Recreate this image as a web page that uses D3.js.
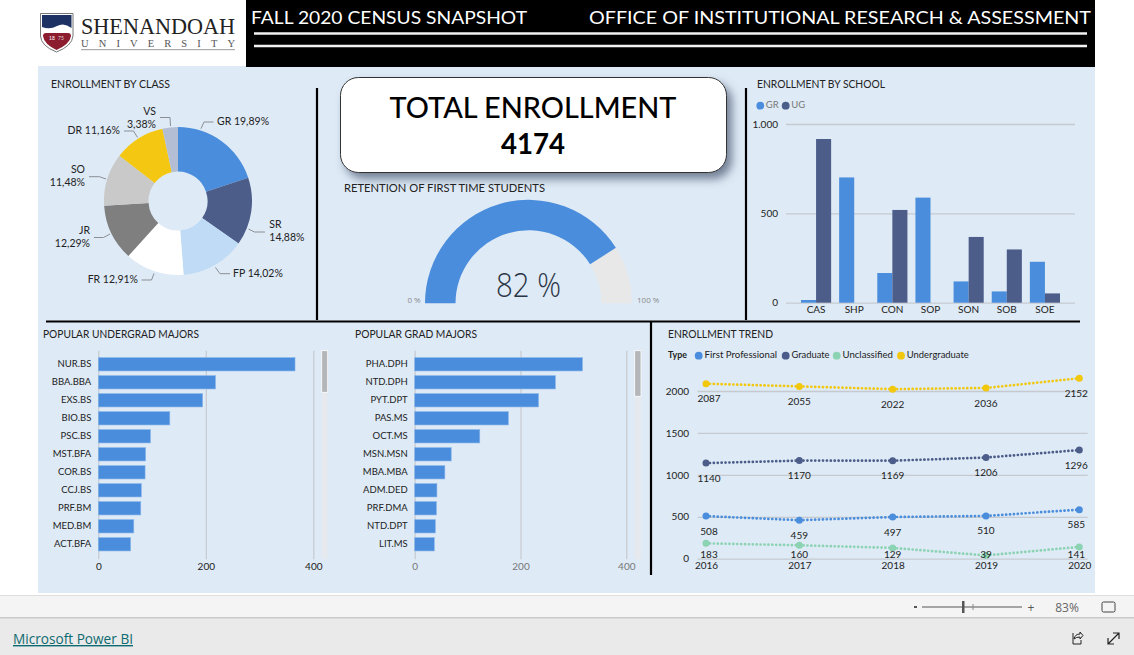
<!DOCTYPE html>
<html><head><meta charset="utf-8">
<script src="https://cdn.jsdelivr.net/npm/d3@7"></script>
<style>
html,body{margin:0;padding:0;background:#fff;overflow:hidden}
svg{display:block}
text{font-family:"Comic Sans MS","Lato",sans-serif;fill:#222}
.axis path.domain{display:none}
</style></head><body>
<div id="chart"></div>
<script>
// ---------- data ----------
const classNames = ["GR","SR","FP","FR","JR","SO","DR","VS"];
const classShares = [19.89,14.88,14.02,12.91,12.29,11.48,11.16,3.38];
const classColors = ["#4a8ddc","#4c5d8a","#bfdbf5","#ffffff","#7f7f7f","#c9c9c9","#f4c812","#b3bdd3"];

const totalEnrollment = 4174;
const retentionPct = 82;

const schools = ["CAS","SHP","CON","SOP","SON","SOB","SOE"];
const schoolGR = [15,701,166,588,119,63,229];
const schoolUG = [916,0,519,0,368,298,52];

const ugMajors = ["NUR.BS","BBA.BBA","EXS.BS","BIO.BS","PSC.BS","MST.BFA","COR.BS","CCJ.BS","PRF.BM","MED.BM","ACT.BFA"];
const ugCounts = [366,218,194,133,97,88,87,80,79,66,60];
const gradMajors = ["PHA.DPH","NTD.DPH","PYT.DPT","PAS.MS","OCT.MS","MSN.MSN","MBA.MBA","ADM.DED","PRF.DMA","NTD.DPT","LIT.MS"];
const gradCounts = [317,266,234,177,123,69,57,42,41,39,37];

const years = [2016,2017,2018,2019,2020];
const firstProfessional = [508,459,497,510,585];
const graduate = [1140,1170,1169,1206,1296];
const unclassified = [183,160,129,39,141];
const undergraduate = [2087,2055,2022,2036,2152];
const trendNames = ["First Professional","Graduate","Unclassified","Undergraduate"];

// ---------- style + layout ----------
const BLUE="#4a8ddc",NAVY="#4c5d8a",GREEN="#8cd3b3",YELLOW="#f2c80f",PANEL="#deeaf6",GRID="#c6cacf";
const trendColors=[BLUE,NAVY,GREEN,YELLOW];

const svg=d3.select("#chart").append("svg").attr("width",1134).attr("height",655).attr("viewBox","0 0 1134 655");
const defs=svg.append("defs");
const f=defs.append("filter").attr("id","shadow").attr("x","-10%").attr("y","-20%").attr("width","125%").attr("height","150%");
f.append("feDropShadow").attr("dx",5).attr("dy",6).attr("stdDeviation",5).attr("flood-color","#56657c").attr("flood-opacity",.8);

function txt(g,x,y,s,size,opt={}){
  const t=g.append("text").attr("x",x).attr("y",y).attr("font-size",size).text(s)
    .attr("text-anchor",opt.anchor||"start").attr("dominant-baseline",opt.base||"auto");
  if(opt.fill)t.style("fill",opt.fill);
  if(opt.weight)t.attr("font-weight",opt.weight);
  if(opt.family)t.style("font-family",opt.family);
  if(opt.width)t.attr("textLength",opt.width).attr("lengthAdjust","spacingAndGlyphs");
  return t;
}
function rect(g,x,y,w,h,fill){return g.append("rect").attr("x",x).attr("y",y).attr("width",w).attr("height",h).attr("fill",fill);}
function styleAxis(g,size,color){
  g.attr("class","axis");
  g.selectAll("text").attr("font-size",size).style("fill",color||"#222");
}

// ---------- page chrome ----------
rect(svg,38,66,1057,527,PANEL);
rect(svg,246,0,849,67,"#000");
txt(svg,251,24,"FALL 2020 CENSUS SNAPSHOT",18,{fill:"#fff",width:276});
txt(svg,589,24,"OFFICE OF INSTITUTIONAL RESEARCH & ASSESSMENT",18,{fill:"#fff",width:502});
[33.5,46].forEach(y=>svg.append("line").attr("x1",254).attr("x2",1087).attr("y1",y).attr("y2",y).attr("stroke","#f2f2f2").attr("stroke-width",2.5));

// logo
const logo=svg.append("g");
logo.append("path").attr("d","M40.5 13.5H73V36Q72 46 56.5 52Q41 46 40.5 36Z").attr("fill","#fff").attr("stroke","#777").attr("stroke-width",1);
logo.append("path").attr("d","M42 15H71.5V28Q64 22 57 26T42 27Z").attr("fill","#1d3263");
logo.append("path").attr("d","M46 33H68Q71 33 71 36Q70 44 56.5 50Q44 44 43 36Q43 33 46 33Z").attr("fill","#8c1d2f");
txt(logo,52,39.5,"18",5,{fill:"#fff",anchor:"middle"});
txt(logo,61,39.5,"75",5,{fill:"#ddd",anchor:"middle"});
txt(logo,81,33.5,"SHENANDOAH",24,{family:"'Liberation Serif',serif",fill:"#222",width:154});
txt(logo,81,46.5,"UNIVERSITY",10.5,{family:"'Liberation Serif',serif",fill:"#555",width:154}).attr("lengthAdjust","spacing");
logo.append("line").attr("x1",81).attr("x2",235).attr("y1",49.7).attr("y2",49.7).attr("stroke","#999");

// separators
[[317,88,317,320],[746,88,746,320],[46,321.5,1080,321.5],[651,321,651,575]].forEach(d=>
  svg.append("line").attr("x1",d[0]).attr("y1",d[1]).attr("x2",d[2]).attr("y2",d[3]).attr("stroke","#000").attr("stroke-width",2.2));

// bottom bars
rect(svg,0,595,1134,23,"#f4f4f4");
rect(svg,0,595,1134,1,"#dedede");
rect(svg,0,618,1134,37,"#eaeaea");
rect(svg,0,617,1134,1.5,"#c9c9c9");
const bb=svg.append("g");
rect(bb,914,606,3,2,"#555");
bb.append("line").attr("x1",922).attr("x2",1022).attr("y1",607).attr("y2",607).attr("stroke","#555");
rect(bb,962,601,2.5,12,"#555");
bb.append("line").attr("x1",973).attr("x2",973).attr("y1",604).attr("y2",610).attr("stroke","#888");
txt(bb,1031,611.5,"+",12,{anchor:"middle",fill:"#555",family:"'Open Sans',sans-serif"});
txt(bb,1067,611.5,"83%",12,{anchor:"middle",fill:"#666",family:"'Open Sans',sans-serif"});
bb.append("rect").attr("x",1102).attr("y",602).attr("width",13).attr("height",10).attr("rx",1.5).attr("fill","none").attr("stroke","#444");
txt(bb,13,644,"Microsoft Power BI",14,{fill:"#0d6a70",family:"'Open Sans',sans-serif",width:120}).attr("text-decoration","underline");
bb.append("path").attr("d","M1073 633V644H1081V640M1074 639Q1075 634 1080 634V632L1083 635.5L1080 639V637Q1076 637 1074 639Z").attr("fill","none").attr("stroke","#222");
bb.append("path").attr("d","M1108 644L1119 633M1113 633H1119V639M1108 638V644H1114").attr("fill","none").attr("stroke","#222").attr("stroke-width",1.2);

// ---------- enrollment by class ----------
txt(svg,51,88,"ENROLLMENT BY CLASS",10.5,{width:119});
const pieX=178,pieY=201,pieR=74,pieInner=29.5;
const pieG=svg.append("g").attr("transform",`translate(${pieX},${pieY})`);
const arcs=d3.pie().sort(null).value(d=>d)(classShares);
pieG.selectAll("path").data(arcs).join("path")
  .attr("d",d3.arc().innerRadius(pieInner).outerRadius(pieR))
  .attr("fill",(d,i)=>classColors[i]);
// label placement, relative to page
const pieLabels=[
 {lines:["GR 19,89%"],x:217,y:122,a:"start",lead:[[201,128.7],[204,122],[213.5,122]]},
 {lines:["SR","14,88%"],x:269.3,y:225,a:"start",lead:[[248.5,229],[254.5,232],[265,232]]},
 {lines:["FP 14,02%"],x:233,y:274,a:"start",lead:[[215.5,267.5],[220,273.7],[230,273.7]]},
 {lines:["FR 12,91%"],x:138,y:280,a:"end",lead:[[154,273.5],[151.5,280],[141.5,280]]},
 {lines:["JR","12,29%"],x:90,y:231,a:"end",lead:[[110,234],[103.5,237.5],[94,237.5]]},
 {lines:["SO","11,48%"],x:85,y:170,a:"end",lead:[[106,179],[99.5,176.7],[89,176.7]]},
 {lines:["DR 11,16%"],x:120,y:131,a:"end",lead:[[137.5,137.5],[133.5,131],[124,131]]},
 {lines:["VS","3,38%"],x:156,y:112,a:"end",lead:[[170.5,126],[170,117.5],[160,117.5]]}
];
pieLabels.forEach(l=>{
  svg.append("path").attr("d",d3.line()(l.lead)).attr("fill","none").attr("stroke","#8a8f96");
  l.lines.forEach((s,i)=>txt(svg,l.x,l.y+i*13.5,s,10.5,{anchor:l.a,base:"middle"}));
});

// ---------- total card ----------
svg.append("rect").attr("x",340.5).attr("y",77.5).attr("width",386).attr("height",95).attr("rx",18)
  .attr("fill","#fff").attr("stroke","#333").attr("filter","url(#shadow)");
txt(svg,533,118,"TOTAL ENROLLMENT",29,{anchor:"middle",fill:"#000",weight:500,width:287});
txt(svg,533,154,String(totalEnrollment),29,{anchor:"middle",fill:"#000",weight:700,width:64});

// ---------- gauge ----------
txt(svg,344,192,"RETENTION OF FIRST TIME STUDENTS",10.5,{width:201});
const gx=528.5,gy=303.3;
const gaugeG=svg.append("g").attr("transform",`translate(${gx},${gy})`);
const gaugeAngle=d3.scaleLinear().domain([0,100]).range([-Math.PI/2,Math.PI/2]);
const gaugeArc=d3.arc().innerRadius(73).outerRadius(103.5);
gaugeG.append("path").attr("d",gaugeArc({startAngle:gaugeAngle(retentionPct),endAngle:gaugeAngle(100)})).attr("fill","#e8e8e8");
gaugeG.append("path").attr("d",gaugeArc({startAngle:gaugeAngle(0),endAngle:gaugeAngle(retentionPct)})).attr("fill",BLUE);
txt(svg,528.5,297,retentionPct+" %",33,{anchor:"middle",family:"'Open Sans',sans-serif",fill:"#2b3445",width:65}).attr("font-weight",300);
txt(svg,420.7,303,"0 %",8,{anchor:"end",fill:"#8b8b8b",family:"'Open Sans',sans-serif"});
txt(svg,637,303,"100 %",8,{fill:"#8b8b8b",family:"'Open Sans',sans-serif"});

// ---------- enrollment by school ----------
txt(svg,757,88,"ENROLLMENT BY SCHOOL",10.5,{width:128});
[["GR",BLUE,760.3],["UG",NAVY,785.7]].forEach(d=>{
  svg.append("circle").attr("cx",d[2]).attr("cy",105.7).attr("r",3.9).attr("fill",d[1]);
  txt(svg,d[2]+5.5,105.7,d[0],9.5,{base:"middle",fill:"#777"});
});
const sy=d3.scaleLinear().domain([0,1000]).range([302.7,124]);
const sx=d3.scaleBand().domain(schools).range([797,1064]).paddingInner(.21).paddingOuter(.105);
const sx2=d3.scaleBand().domain(["GR","UG"]).range([0,sx.bandwidth()]);
const nl=d3.formatLocale({decimal:",",thousands:".",grouping:[3],currency:["",""]});
const sYAxis=svg.append("g").attr("transform","translate(786,0)")
  .call(d3.axisLeft(sy).tickValues([0,500,1000]).tickSize(-289).tickPadding(8).tickFormat(nl.format(",")));
styleAxis(sYAxis,10);
sYAxis.selectAll("line").attr("stroke",GRID).attr("stroke-width",1.3);
const sXAxis=svg.append("g").attr("transform","translate(0,302.7)")
  .call(d3.axisBottom(sx).tickSize(0).tickPadding(3.5));
styleAxis(sXAxis,10);
[["GR",schoolGR,BLUE],["UG",schoolUG,NAVY]].forEach(([k,vals,c])=>{
  svg.append("g").selectAll("rect").data(vals).join("rect")
    .attr("x",(d,i)=>sx(schools[i])+sx2(k))
    .attr("y",d=>sy(d))
    .attr("width",sx2.bandwidth())
    .attr("height",d=>sy(0)-sy(d))
    .attr("fill",c);
});

// ---------- horizontal bar charts ----------
function hbar(title,titleX,titleW,names,vals,x0,x400,labelColor,sbX,sbW,thumbEnd){
  txt(svg,titleX,338,title,10.5,{width:titleW});
  const x=d3.scaleLinear().domain([0,400]).range([x0,x400]);
  const y=d3.scaleBand().domain(names).range([355.3,553.3]).paddingInner(.26).paddingOuter(.13);
  const xa=svg.append("g").attr("transform","translate(0,559.3)")
    .call(d3.axisBottom(x).tickValues([0,200,400]).tickSize(-208.6).tickPadding(3.5));
  styleAxis(xa,10,labelColor);
  xa.selectAll("line").attr("stroke",GRID).attr("stroke-width",1.2);
  const ya=svg.append("g").attr("transform",`translate(${x0},0)`)
    .call(d3.axisLeft(y).tickSize(0).tickPadding(7));
  styleAxis(ya,9.5);
  svg.append("g").selectAll("rect").data(vals).join("rect")
    .attr("x",x(0)).attr("y",(d,i)=>y(names[i]))
    .attr("width",d=>x(d)-x(0)).attr("height",y.bandwidth()).attr("fill",BLUE)
    .attr("stroke","#86b4ea").attr("stroke-width",.6);
  rect(svg,sbX,350.7,sbW,208.6,"#e6e9ee");
  svg.append("rect").attr("x",sbX).attr("y",350.7).attr("width",sbW).attr("height",thumbEnd-350.7)
    .attr("fill","#b5b6b9").attr("stroke","#fff").attr("stroke-width",.8);
}
hbar("POPULAR UNDERGRAD MAJORS",43,156,ugMajors,ugCounts,98.3,313.3,"#222",321.7,6,392.3);
hbar("POPULAR GRAD MAJORS",355,122,gradMajors,gradCounts,414.7,626.3,"#777",634.7,6.3,396.3);

// ---------- enrollment trend ----------
txt(svg,668,338,"ENROLLMENT TREND",10.5,{width:105});
txt(svg,668,355.7,"Type",9.5,{base:"middle",weight:700,fill:"#222",width:19});
const legendX=[698.7,785.7,836.7,901], legendW=[72.5,38,50.5,62];
trendNames.forEach((n,i)=>{
  svg.append("circle").attr("cx",legendX[i]).attr("cy",355.7).attr("r",3.9).attr("fill",trendColors[i]);
  txt(svg,legendX[i]+5.8,355.7,n,9.5,{base:"middle",width:legendW[i]});
});
const tx=d3.scalePoint().domain(years).range([706,1079.3]);
const ty=d3.scaleLinear().domain([0,2000]).range([558.7,391]);
const tyA=svg.append("g").attr("transform","translate(697.7,0)")
  .call(d3.axisLeft(ty).tickValues([0,500,1000,1500,2000]).tickSize(-390).tickPadding(8.7).tickFormat(d3.format("d")));
styleAxis(tyA,10);
tyA.selectAll("line").attr("stroke",GRID).attr("stroke-width",1.3);
const txA=svg.append("g").attr("transform","translate(0,558.7)")
  .call(d3.axisBottom(tx).tickSize(0).tickPadding(3.5).tickFormat(d3.format("d")));
styleAxis(txA,10);
const labelFloor=555.3;
[firstProfessional,graduate,unclassified,undergraduate].forEach((vals,s)=>{
  const g=svg.append("g");
  g.append("path").datum(vals)
    .attr("d",d3.line().x((d,i)=>tx(years[i])).y(d=>ty(d)))
    .attr("fill","none").attr("stroke",trendColors[s]).attr("stroke-width",2.7)
    .attr("stroke-linecap","round").attr("stroke-dasharray","0.1 3.8");
  g.selectAll("circle").data(vals).join("circle")
    .attr("cx",(d,i)=>tx(years[i])).attr("cy",d=>ty(d)).attr("r",3.5).attr("fill",trendColors[s]);
  g.selectAll("text").data(vals).join("text")
    .attr("x",(d,i)=>tx(years[i])+(i===4?-3:0)+(i===0?3:0))
    .attr("y",d=>Math.min(ty(d)+16,labelFloor))
    .attr("text-anchor","middle").attr("dominant-baseline","middle")
    .attr("font-size",10).text(d=>d);
});
</script>
</body></html>
